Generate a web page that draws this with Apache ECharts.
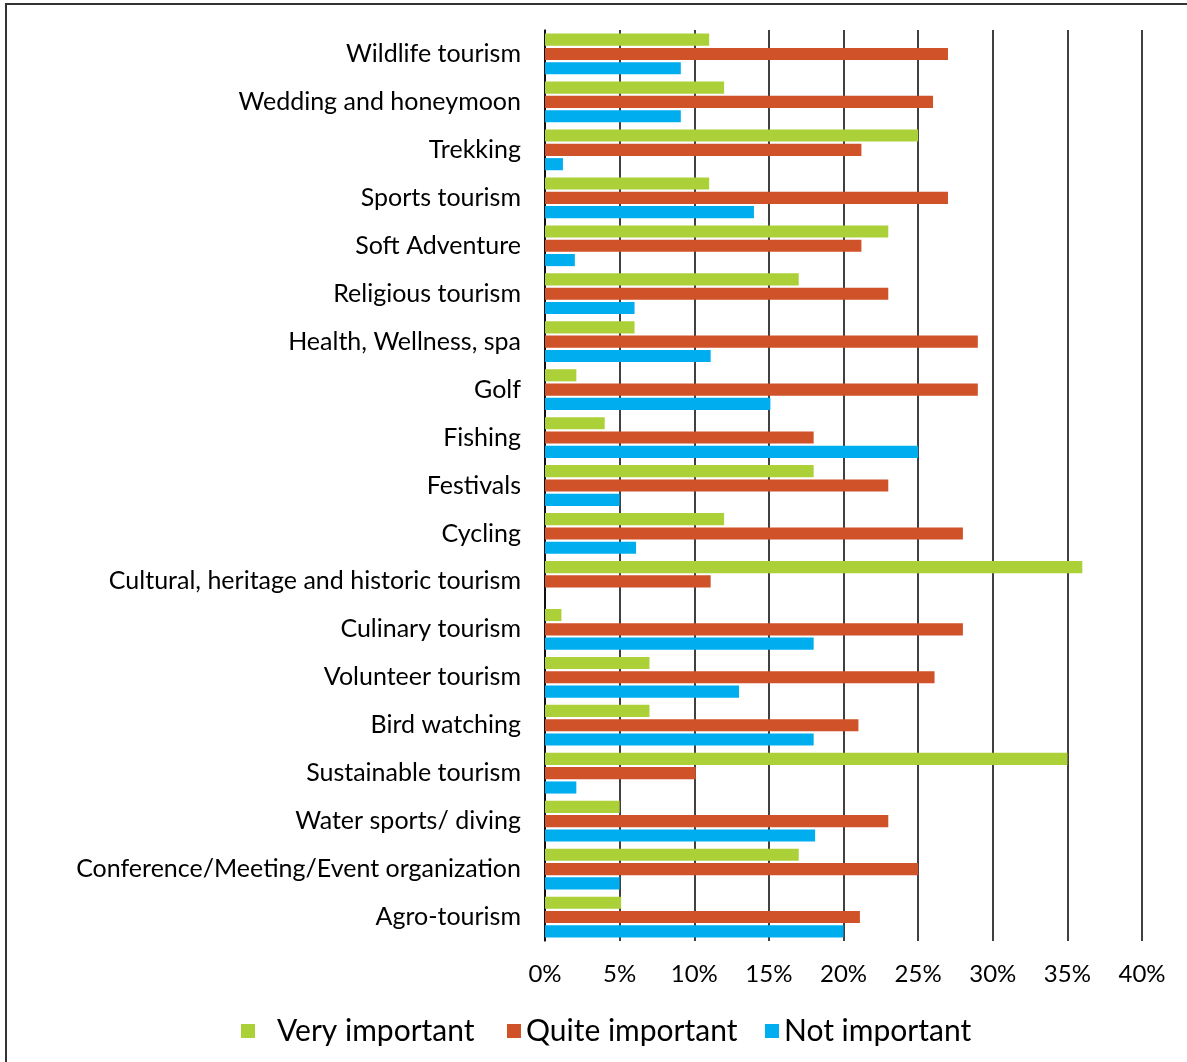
<!DOCTYPE html>
<html>
<head>
<meta charset="utf-8">
<title>Importance of tourism types</title>
<script src="https://cdn.jsdelivr.net/npm/echarts@6/dist/echarts.min.js"></script>
<style>
  html, body { margin: 0; padding: 0; background: #fff; }
  #chart { width: 1187px; height: 1062px; }
</style>
</head>
<body>
<div id="chart"></div>
<script>
// Tourism segments, listed top to bottom
const categories = [
  'Wildlife tourism',
  'Wedding and honeymoon',
  'Trekking',
  'Sports tourism',
  'Soft Adventure',
  'Religious tourism',
  'Health, Wellness, spa',
  'Golf',
  'Fishing',
  'Festivals',
  'Cycling',
  'Cultural, heritage and historic tourism',
  'Culinary tourism',
  'Volunteer tourism',
  'Bird watching',
  'Sustainable tourism',
  'Water sports/ diving',
  'Conference/Meeting/Event organization',
  'Agro-tourism'
];

// Share of respondents (%)
const veryImportant  = [11, 12, 25, 11, 23, 17, 6, 2.1, 4, 18, 12, 36, 1.1, 7, 7, 35, 5, 17, 5.1];
const quiteImportant = [27, 26, 21.2, 27, 21.2, 23, 29, 29, 18, 23, 28, 11.1, 28, 26.1, 21, 10.1, 23, 25, 21.1];
const notImportant   = [9.1, 9.1, 1.2, 14, 2, 6, 11.1, 15.1, 25, 5, 6.1, 0, 18, 13, 18, 2.1, 18.1, 5, 20];

const seriesNames = ['Very important', 'Quite important', 'Not important'];
const tickLabels = ['0%', '5%', '10%', '15%', '20%', '25%', '30%', '35%', '40%'];

const colors = ['#acd037', '#d05229', '#00aeef'];
const FONT = 'Lato, "Open Sans", sans-serif';

const chart = echarts.init(document.getElementById('chart'), null, { renderer: 'canvas' });

function legendAt(name, left, textPad) {
  return {
    data: [name],
    left: left,
    top: 1011,
    orient: 'horizontal',
    icon: 'rect',
    itemWidth: 14,
    itemHeight: 14,
    selectedMode: false,
    textStyle: {
      fontFamily: FONT,
      fontSize: 30,
      color: '#000',
      padding: [0, 0, 0, textPad]
    }
  };
}

chart.setOption({
  animation: false,
  backgroundColor: '#fff',
  color: colors,
  graphic: [{
    type: 'rect',
    shape: { x: 6, y: 4, width: 1200, height: 1080 },
    style: { fill: 'none', stroke: '#333', lineWidth: 2 },
    silent: true
  }],
  grid: {
    left: 545,
    right: 45,
    top: 30,
    bottom: 121,
    containLabel: false
  },
  xAxis: {
    type: 'value',
    min: 0,
    max: 40,
    interval: 5,
    axisLine: { show: false },
    axisTick: { show: false },
    splitLine: { show: true, lineStyle: { color: '#111', width: 1.6 } },
    axisLabel: {
      margin: 21,
      fontFamily: FONT,
      fontSize: 24,
      color: '#000',
      formatter: function (v) { return tickLabels[Math.round(v / 5)]; }
    }
  },
  yAxis: {
    type: 'category',
    data: categories,
    inverse: true,
    axisLine: { show: true, lineStyle: { color: '#000', width: 1.5 } },
    axisTick: { show: false },
    splitLine: { show: false },
    axisLabel: {
      margin: 24,
      fontFamily: FONT,
      fontSize: 25,
      color: '#000'
    }
  },
  legend: [
    legendAt(seriesNames[0], 236, 17),
    legendAt(seriesNames[1], 502, 0),
    legendAt(seriesNames[2], 760, 0)
  ],
  series: [
    { name: seriesNames[0], type: 'bar', data: veryImportant,  barGap: '18%', barCategoryGap: '15%' },
    { name: seriesNames[1], type: 'bar', data: quiteImportant, barGap: '18%', barCategoryGap: '15%' },
    { name: seriesNames[2], type: 'bar', data: notImportant,   barGap: '18%', barCategoryGap: '15%' }
  ]
});
</script>
</body>
</html>
